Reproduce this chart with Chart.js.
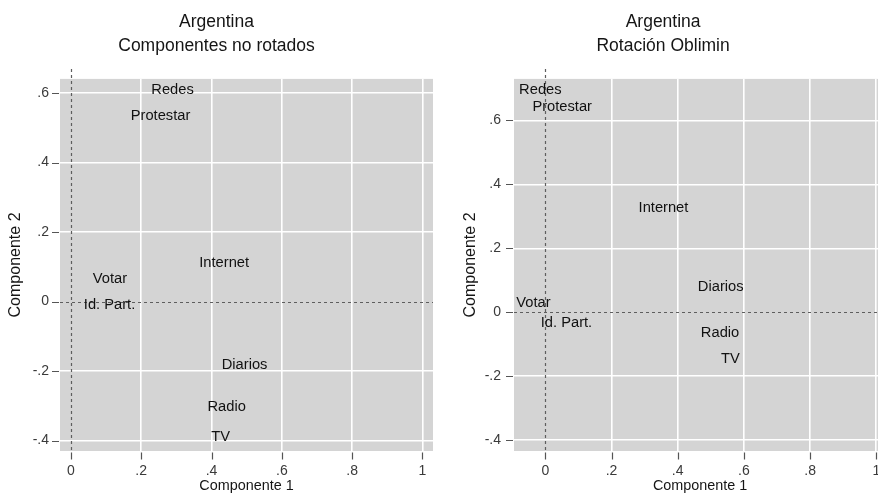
<!DOCTYPE html>
<html>
<head>
<meta charset="utf-8">
<script src="https://cdn.jsdelivr.net/npm/chart.js@4/dist/chart.umd.min.js"></script>
<style>
  html, body { margin: 0; padding: 0; background: #ffffff; }
  #wrap { position: relative; width: 878px; height: 495px; overflow: hidden; background: #ffffff; }
  canvas { position: absolute; top: 0; }
  #left { left: 0; }
  #right { left: 440px; }
</style>
</head>
<body>
<div id="wrap">
  <canvas id="left" width="440" height="495"></canvas>
  <canvas id="right" width="470" height="495"></canvas>
</div>
<script>
// Variables loaded on the two components
const variables = ['Redes', 'Protestar', 'Internet', 'Votar', 'Id. Part.', 'Diarios', 'Radio', 'TV'];

// Unrotated components
const unrotatedC1 = [0.289, 0.255, 0.436, 0.111, 0.110, 0.494, 0.443, 0.426];
const unrotatedC2 = [0.609, 0.535, 0.110, 0.064, -0.010, -0.183, -0.302, -0.389];

// Oblimin rotation
const obliminC1 = [-0.015, 0.051, 0.357, -0.036, 0.064, 0.530, 0.528, 0.559];
const obliminC2 = [0.695, 0.641, 0.325, 0.030, -0.034, 0.078, -0.064, -0.146];

// Axis ticks and their labels
const xTicks = [0, 0.2, 0.4, 0.6, 0.8, 1];
const xTickLabels = ['0', '.2', '.4', '.6', '.8', '1'];
const yTicks = [-0.4, -0.2, 0, 0.2, 0.4, 0.6];
const yTickLabels = ['-.4', '-.2', '0', '.2', '.4', '.6'];

const FONT = "'Liberation Sans', Arial, sans-serif";
const PLOT_BG = '#d4d4d4';

const plotStyle = {
  id: 'plotStyle',
  beforeDraw(chart) {
    const { ctx, chartArea: a } = chart;
    ctx.save();
    ctx.fillStyle = PLOT_BG;
    ctx.fillRect(a.left, a.top, a.right - a.left, a.bottom - a.top);
    ctx.restore();
  },
  beforeDatasetsDraw(chart) {
    const { ctx, chartArea: a, scales: { x, y } } = chart;
    const x0 = Math.round(x.getPixelForValue(0)) + 0.5;
    const y0 = Math.round(y.getPixelForValue(0)) + 0.5;
    ctx.save();
    ctx.strokeStyle = '#5e5e5e';
    ctx.lineWidth = 1.2;
    ctx.setLineDash([3, 3]);
    ctx.beginPath();
    ctx.moveTo(x0, a.top - 10);
    ctx.lineTo(x0, a.bottom);
    ctx.moveTo(a.left, y0);
    ctx.lineTo(a.right, y0);
    ctx.stroke();
    ctx.restore();
  },
  afterDraw(chart) {
    const { ctx, chartArea: a, scales: { x, y } } = chart;
    ctx.save();
    ctx.strokeStyle = '#555555';
    ctx.lineWidth = 1.2;
    ctx.beginPath();
    x.ticks.forEach(t => {
      const px = Math.round(x.getPixelForValue(t.value)) + 0.5;
      ctx.moveTo(px, a.bottom + 1.5);
      ctx.lineTo(px, a.bottom + 8.5);
    });
    y.ticks.forEach(t => {
      const py = Math.round(y.getPixelForValue(t.value)) + 0.5;
      ctx.moveTo(a.left - 8, py);
      ctx.lineTo(a.left - 1, py);
    });
    ctx.stroke();

    // Variable names written at each loading
    const meta = chart.getDatasetMeta(0);
    ctx.fillStyle = '#111111';
    ctx.font = '14.7px ' + FONT;
    ctx.textAlign = 'center';
    ctx.textBaseline = 'middle';
    meta.data.forEach((pt, i) => {
      ctx.fillText(variables[i], pt.x, pt.y);
    });
    ctx.restore();
  }
};

function makeChart(id, c1, c2, subtitle, r, yTitlePad, yTickPad, yAxisWidth, rightPad) {
  const points = c1.map((v, i) => ({ x: v, y: c2[i] }));
  return new Chart(document.getElementById(id), {
    type: 'scatter',
    data: { datasets: [{ data: points, pointRadius: 0, pointHoverRadius: 0 }] },
    options: {
      responsive: false,
      animation: false,
      devicePixelRatio: 1,
      layout: { padding: { left: 0, right: rightPad, top: 0, bottom: 0 } },
      plugins: {
        legend: { display: false },
        tooltip: { enabled: false },
        title: {
          display: true,
          text: ['Argentina', subtitle],
          color: '#151515',
          font: { family: FONT, size: 17.5, weight: 'normal', lineHeight: 1.34 },
          padding: { top: 10.6, bottom: 21.4 }
        }
      },
      scales: {
        x: {
          type: 'linear',
          min: r.xmin, max: r.xmax,
          afterBuildTicks: s => { s.ticks = xTicks.map(value => ({ value })); },
          afterFit: s => { s.height = 44; },
          grid: {
            drawTicks: false,
            lineWidth: 1.6,
            color: c => (c.tick && c.tick.value === 0 ? 'rgba(0,0,0,0)' : '#ffffff')
          },
          border: { display: false },
          ticks: {
            padding: 12,
            color: '#3a3a3a',
            font: { family: FONT, size: 14 },
            maxRotation: 0,
            callback: (v, i) => xTickLabels[i]
          },
          title: {
            display: true,
            text: 'Componente 1',
            color: '#151515',
            font: { family: FONT, size: 14.4 },
            padding: { top: 0, bottom: 0 }
          }
        },
        y: {
          type: 'linear',
          min: r.ymin, max: r.ymax,
          afterBuildTicks: s => { s.ticks = yTicks.map(value => ({ value })); },
          afterFit: s => { s.width = yAxisWidth; },
          grid: {
            drawTicks: false,
            lineWidth: 1.6,
            color: c => (c.tick && c.tick.value === 0 ? 'rgba(0,0,0,0)' : '#ffffff')
          },
          border: { display: false },
          ticks: {
            padding: yTickPad,
            color: '#3a3a3a',
            font: { family: FONT, size: 14 },
            callback: (v, i) => yTickLabels[i]
          },
          title: {
            display: true,
            text: 'Componente 2',
            color: '#151515',
            font: { family: FONT, size: 16 },
            padding: { top: yTitlePad, bottom: 0 }
          }
        }
      }
    },
    plugins: [plotStyle]
  });
}

makeChart('left', unrotatedC1, unrotatedC2, 'Componentes no rotados',
  { xmin: -0.031, xmax: 1.03, ymin: -0.43, ymax: 0.641 }, 6, 11, 60, 7);
makeChart('right', obliminC1, obliminC2, 'Rotación Oblimin',
  { xmin: -0.0946, xmax: 1.03, ymin: -0.434, ymax: 0.73 }, 21, 13, 74, 23.8);
</script>
</body>
</html>
